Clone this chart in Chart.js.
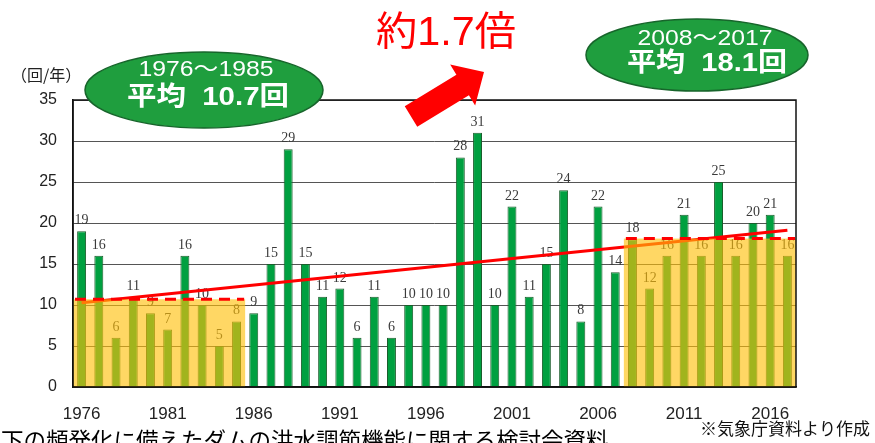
<!DOCTYPE html>
<html><head><meta charset="utf-8">
<script src="https://cdn.jsdelivr.net/npm/chart.js@4.4.1/dist/chart.umd.min.js"></script>
<style>html,body{margin:0;padding:0;background:#fff;overflow:hidden}canvas{display:block}</style>
</head><body>
<canvas id="c" width="875" height="443"></canvas>
<script>
// ---- data ----
const years = ['1976','1977','1978','1979','1980','1981','1982','1983','1984','1985',
  '1986','1987','1988','1989','1990','1991','1992','1993','1994','1995','1996','1997',
  '1998','1999','2000','2001','2002','2003','2004','2005','2006','2007',
  '2008','2009','2010','2011','2012','2013','2014','2015','2016','2017'];
const counts = [19,16,6,11,9,7,16,10,5,8,
  9,15,29,15,11,12,6,11,6,10,10,10,
  28,31,10,22,11,15,24,8,22,14,
  18,12,16,21,16,25,16,20,21,16];
const tickYears = ['1976','1981','1986','1991','1996','2001','2006','2011','2016'];
const periodStart = ['1976','2008'];
const periodEnd = ['1985','2017'];
const periodAvg = [10.7, 18.1];
const periodLabel = ['1976～1985','2008～2017'];
const periodAvgLabel = ['平均  10.7回','平均  18.1回'];
const ratioText = '約1.7倍';
const unitText = '（回/年）';
const noteText = '※気象庁資料より作成';
const sourceText = '下の頻発化に備えたダムの洪水調節機能に関する検討会資料';

// least-squares trend line over the series (drawn at both ends)
const n = counts.length;
const mx = (n - 1) / 2;
const my = counts.reduce((a, b) => a + b, 0) / n;
let sxy = 0, sxx = 0;
counts.forEach((v, i) => { sxy += (i - mx) * (v - my); sxx += (i - mx) * (i - mx); });
const slope = sxy / sxx;
const trend = counts.map((v, i) => (i === 0 || i === n - 1) ? my + slope * (i - mx) : null);

const CJK = "'Liberation Sans','Noto Sans CJK JP',sans-serif";

function fitText(ctx, txt, cx, cy, font, w, color) {
  ctx.save();
  ctx.font = font;
  ctx.fillStyle = color;
  ctx.textAlign = 'center';
  ctx.textBaseline = 'middle';
  const m = ctx.measureText(txt).width;
  ctx.translate(cx, cy);
  ctx.scale(w / m, 1);
  ctx.fillText(txt, 0, 0);
  ctx.restore();
}

const decor = {
  id: 'decor',
  beforeDraw(chart) {
    const ctx = chart.ctx;
    ctx.save();
    ctx.fillStyle = '#fff';
    ctx.fillRect(0, 0, chart.width, chart.height);
    ctx.restore();
  },
  afterDatasetDraw(chart, args) {
    if (args.index !== 1) return;
    const ctx = chart.ctx;
    const meta = chart.getDatasetMeta(1);
    ctx.save();
    ctx.font = "14px 'Liberation Serif',serif";
    ctx.fillStyle = '#3a3a3a';
    ctx.textAlign = 'center';
    ctx.textBaseline = 'alphabetic';
    meta.data.forEach((bar, i) => {
      ctx.fillText(String(counts[i]), bar.x, bar.y - 7);
    });
    ctx.restore();
  },
  afterDatasetsDraw(chart) {
    const ctx = chart.ctx;
    const xs = chart.scales.x, ys = chart.scales.y;
    const half = (xs.getPixelForValue(1) - xs.getPixelForValue(0)) / 2;
    ctx.save();
    for (let p = 0; p < periodAvg.length; p++) {
      const i0 = years.indexOf(periodStart[p]);
      const i1 = years.indexOf(periodEnd[p]);
      const x0 = xs.getPixelForValue(i0) - half;
      const x1 = xs.getPixelForValue(i1) + half;
      const y = ys.getPixelForValue(periodAvg[p]);
      const yb = ys.getPixelForValue(0);
      ctx.fillStyle = 'rgba(255,192,10,0.63)';
      ctx.fillRect(x0, y, x1 - x0, yb - y);
      ctx.beginPath();
      ctx.setLineDash([11, 7]);
      ctx.strokeStyle = '#ff0000';
      ctx.lineWidth = 3;
      ctx.moveTo(x0 + 2, y);
      ctx.lineTo(x1 - 1, y);
      ctx.stroke();
      ctx.setLineDash([]);
    }
    ctx.restore();
  },
  afterDraw(chart) {
    const ctx = chart.ctx;
    const a = chart.chartArea;
    ctx.save();
    // frame
    ctx.strokeStyle = '#111';
    ctx.lineWidth = 1.5;
    ctx.strokeRect(a.left, a.top, a.right - a.left, a.bottom - a.top);

    // ellipses
    const ells = [
      {cx: 204, cy: 90, rx: 119, ry: 38, t1x: 206, t1y: 70, t1w: 135, t2x: 208, t2y: 98, t2w: 162},
      {cx: 697, cy: 55, rx: 111, ry: 36, t1x: 705, t1y: 39, t1w: 135, t2x: 707, t2y: 64, t2w: 160}
    ];
    ells.forEach((e, k) => {
      ctx.beginPath();
      ctx.ellipse(e.cx, e.cy, e.rx, e.ry, 0, 0, Math.PI * 2);
      ctx.fillStyle = '#1f9e3e';
      ctx.fill();
      ctx.lineWidth = 1.5;
      ctx.strokeStyle = '#17652b';
      ctx.stroke();
      fitText(ctx, periodLabel[k], e.t1x, e.t1y, "22px " + CJK, e.t1w, '#fff');
      fitText(ctx, periodAvgLabel[k], e.t2x, e.t2y, "bold 26px " + CJK, e.t2w, '#fff');
    });

    // arrow
    const tail = [411, 116.5], tip = [484, 72];
    const dx = tip[0] - tail[0], dy = tip[1] - tail[1];
    const L = Math.hypot(dx, dy);
    const ux = dx / L, uy = dy / L, nx = -uy, ny = ux;
    const sw = 12, hw = 24, hl = 25;
    const neck = [tip[0] - ux * hl, tip[1] - uy * hl];
    ctx.beginPath();
    ctx.moveTo(tail[0] + nx * sw, tail[1] + ny * sw);
    ctx.lineTo(neck[0] + nx * sw, neck[1] + ny * sw);
    ctx.lineTo(neck[0] + nx * hw, neck[1] + ny * hw);
    ctx.lineTo(tip[0], tip[1]);
    ctx.lineTo(neck[0] - nx * hw, neck[1] - ny * hw);
    ctx.lineTo(neck[0] - nx * sw, neck[1] - ny * sw);
    ctx.lineTo(tail[0] - nx * sw, tail[1] - ny * sw);
    ctx.closePath();
    ctx.fillStyle = '#ff0000';
    ctx.fill();

    // ratio text
    fitText(ctx, ratioText, 446, 34, "40px " + CJK, 140, '#ff0000');

    // unit
    ctx.font = "16px 'Noto Sans CJK JP',sans-serif";
    ctx.fillStyle = '#222';
    ctx.textAlign = 'left';
    ctx.textBaseline = 'middle';
    ctx.fillText(unitText, 11, 75);

    // note
    ctx.font = "17px 'Noto Sans CJK JP',sans-serif";
    ctx.textAlign = 'right';
    ctx.fillStyle = '#111';
    ctx.fillText(noteText, 870, 429);

    // source caption (cut by the bottom edge)
    ctx.font = "22.5px 'Noto Sans CJK JP',sans-serif";
    ctx.textAlign = 'left';
    ctx.textBaseline = 'alphabetic';
    ctx.fillStyle = '#000';
    ctx.fillText(sourceText, 1, 449);
    ctx.restore();
  }
};

new Chart(document.getElementById('c'), {
  type: 'bar',
  data: {
    labels: years,
    datasets: [
      {
        type: 'line',
        label: 'trend',
        data: trend,
        borderColor: '#ff0000',
        borderWidth: 3,
        pointRadius: 0,
        spanGaps: true,
        fill: false,
        order: 0
      },
      {
        type: 'bar',
        label: 'count',
        data: counts,
        backgroundColor: '#00a040',
        borderColor: '#1b5e2c',
        borderWidth: 1,
        categoryPercentage: 1,
        barPercentage: 0.52,
        order: 1
      }
    ]
  },
  options: {
    responsive: false,
    animation: false,
    devicePixelRatio: 1,
    layout: {padding: {left: 0, top: 100, right: 79, bottom: 0}},
    plugins: {legend: {display: false}, tooltip: {enabled: false}},
    scales: {
      x: {
        grid: {display: false, drawTicks: false},
        border: {display: true, color: '#111', width: 1.5},
        afterFit(s) { s.height = 56; },
        ticks: {
          autoSkip: false,
          maxRotation: 0,
          padding: 17,
          color: '#222',
          font: {family: "'Liberation Sans',sans-serif", size: 17},
          callback(v) { const y = years[v]; return tickYears.includes(y) ? y : ''; }
        }
      },
      y: {
        min: 0, max: 35,
        grid: {color: '#555', lineWidth: 1, drawTicks: false},
        border: {display: true, color: '#111', width: 1.5},
        afterFit(s) { s.width = 73; },
        ticks: {
          stepSize: 5,
          padding: 16,
          color: '#222',
          font: {family: "'Liberation Sans',sans-serif", size: 16}
        }
      }
    }
  },
  plugins: [decor]
});
</script>
</body></html>
